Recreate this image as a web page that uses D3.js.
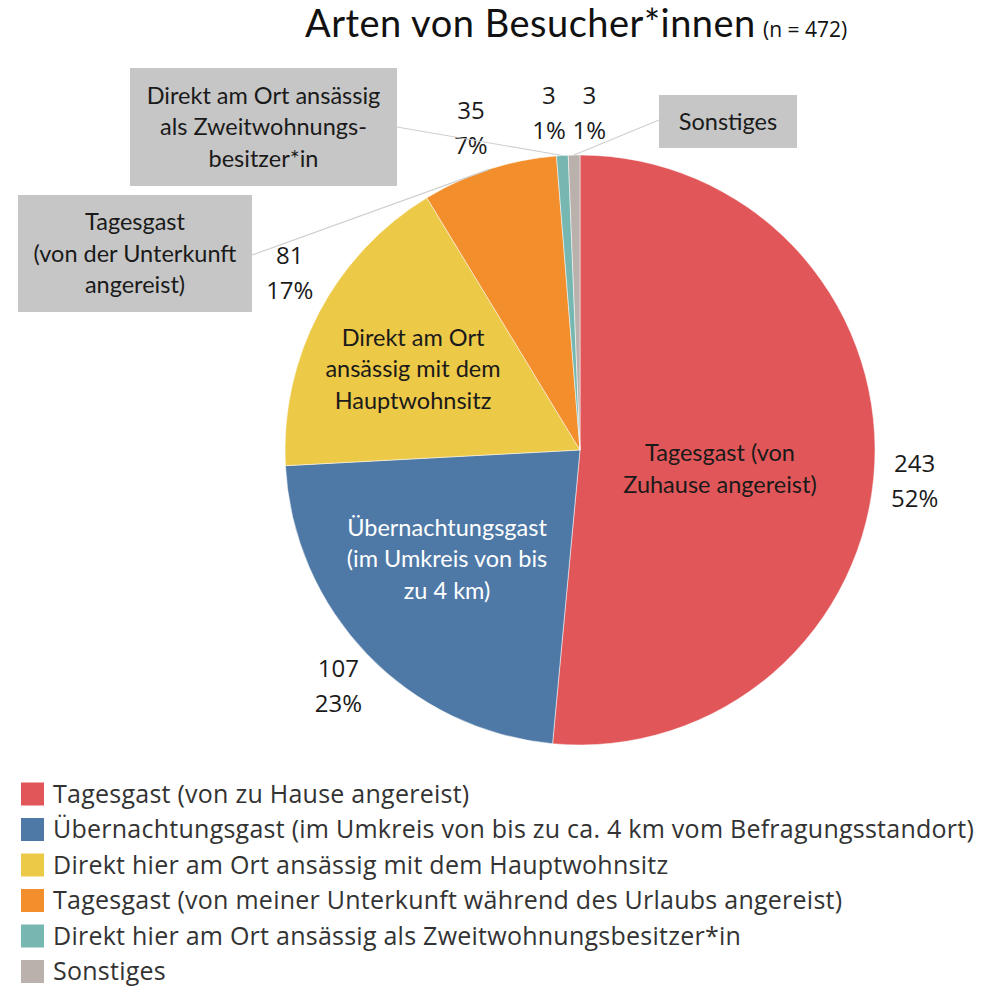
<!DOCTYPE html>
<html>
<head>
<meta charset="utf-8">
<script src="https://cdn.jsdelivr.net/npm/d3@7"></script>
<style>
  body { margin: 0; background: #fff; }
  text { font-family: Lato, "Open Sans", sans-serif; }
</style>
</head>
<body>
<div id="vis"></div>
<script>

var width = 998,
  height = 988;

var cx = 580,
  cy = 450,
  radius = 295;

// Data
var categories = [ 'Tagesgast (von zu Hause angereist)',
  'Übernachtungsgast (im Umkreis von bis zu ca. 4 km vom Befragungsstandort)',
  'Direkt hier am Ort ansässig mit dem Hauptwohnsitz',
  'Tagesgast (von meiner Unterkunft während des Urlaubs angereist)',
  'Direkt hier am Ort ansässig als Zweitwohnungsbesitzer*in',
  'Sonstiges' ];
var counts = [ 243, 107, 81, 35, 3, 3 ];
var percents = [ '52%', '23%', '17%', '7%', '1%', '1%' ];
var colors = [ '#E15759', '#4E79A7', '#EDC948', '#F28E2B', '#76B7B2', '#BAB0AC' ];

// labels drawn inside the slices
var innerLabels = [ [ 'Tagesgast (von', 'Zuhause angereist)' ],
  [ 'Übernachtungsgast', '(im Umkreis von bis', 'zu 4 km)' ],
  [ 'Direkt am Ort', 'ansässig mit dem', 'Hauptwohnsitz' ],
  [], [], [] ];

// callout boxes for the small slices
var callouts = [
  { slice: 3, lines: [ 'Tagesgast', '(von der Unterkunft', 'angereist)' ], box: [ 18, 195, 234, 117 ], anchor: [ 252, 255 ] },
  { slice: 4, lines: [ 'Direkt am Ort ansässig', 'als Zweitwohnungs-', 'besitzer*in' ], box: [ 130, 68, 267, 118 ], anchor: [ 397, 127 ] },
  { slice: 5, lines: [ 'Sonstiges' ], box: [ 659, 95, 138, 53 ], anchor: [ 659, 120 ] }
];

var data = categories.map( ( c, i ) => ( { name: c, value: counts[ i ], pct: percents[ i ], color: colors[ i ], inner: innerLabels[ i ] } ) );

var pie = d3.pie()
  .sort( null )
  .value( d => d.value );

var arcs = pie( data );

var arc = d3.arc()
  .innerRadius( 0 )
  .outerRadius( radius );

var svg = d3.select( '#vis' ).append( 'svg' )
  .attr( 'width', width )
  .attr( 'height', height );

// Title
svg.append( 'text' )
  .attr( 'x', 305 )
  .attr( 'y', 37 )
  .attr( 'fill', '#111' )
  .style( 'font-size', '38px' )
  .style( 'letter-spacing', '0.5px' )
  .text( 'Arten von Besucher*innen' );

svg.append( 'text' )
  .attr( 'x', 763 )
  .attr( 'y', 37 )
  .attr( 'fill', '#111' )
  .style( 'font-family', '"Open Sans", sans-serif' )
  .style( 'font-size', '21px' )
  .text( '(n = 472)' );

var g = svg.append( 'g' )
  .attr( 'transform', 'translate(' + cx + ',' + cy + ')' );

g.selectAll( 'path.slice' )
  .data( arcs )
  .enter().append( 'path' )
    .attr( 'class', 'slice' )
    .attr( 'd', arc )
    .attr( 'fill', d => d.data.color )
    .attr( 'stroke', '#fff' )
    .attr( 'stroke-width', 0.5 );

// inner labels
var innerPos = [ [ 140, 19 ], [ -133, 109 ], [ -167, -81 ] ];
arcs.forEach( ( a, i ) => {
  if ( !a.data.inner.length ) return;
  var lines = a.data.inner;
  var t = g.append( 'text' )
    .attr( 'text-anchor', 'middle' )
    .attr( 'fill', i == 1 ? '#fff' : '#1a1a1a' )
    .style( 'font-size', '23.5px' );
  lines.forEach( ( l, k ) => {
    t.append( 'tspan' )
      .attr( 'x', innerPos[ i ][ 0 ] )
      .attr( 'y', innerPos[ i ][ 1 ] + ( k - ( lines.length - 1 ) / 2 ) * 31.5 + 8 )
      .text( l );
  } );
} );

// outer value labels
var outerArc = d3.arc()
  .innerRadius( radius + 40 )
  .outerRadius( radius + 40 );
var nudge = [ [ 0, 16 ], [ 0, 4 ], [ 6, -20 ], [ -6, -3 ], [ -11, -2 ], [ 16, -2 ] ];

arcs.forEach( ( a, i ) => {
  var p = outerArc.centroid( a );
  var t = g.append( 'text' )
    .attr( 'text-anchor', 'middle' )
    .attr( 'fill', '#1a1a1a' )
    .style( 'font-family', '"Open Sans", sans-serif' )
    .style( 'font-size', '24px' );
  [ a.data.value, a.data.pct ].forEach( ( s, k ) => {
    t.append( 'tspan' )
      .attr( 'x', p[ 0 ] + nudge[ i ][ 0 ] )
      .attr( 'y', p[ 1 ] + nudge[ i ][ 1 ] + ( k - 0.5 ) * 35 + 8 )
      .text( s );
  } );
} );

// callouts
callouts.forEach( c => {
  var a = arcs[ c.slice ];
  var ang = ( a.startAngle + a.endAngle ) / 2;
  var ex = cx + radius * Math.sin( ang ),
    ey = cy - radius * Math.cos( ang );
  svg.append( 'line' )
    .attr( 'x1', c.anchor[ 0 ] )
    .attr( 'y1', c.anchor[ 1 ] )
    .attr( 'x2', ex )
    .attr( 'y2', ey )
    .attr( 'stroke', '#cfcfcf' )
    .attr( 'stroke-width', 1.2 );
  svg.append( 'rect' )
    .attr( 'x', c.box[ 0 ] )
    .attr( 'y', c.box[ 1 ] )
    .attr( 'width', c.box[ 2 ] )
    .attr( 'height', c.box[ 3 ] )
    .attr( 'fill', '#c6c6c6' );
  var t = svg.append( 'text' )
    .attr( 'text-anchor', 'middle' )
    .attr( 'fill', '#1a1a1a' )
    .style( 'font-size', '23.5px' );
  c.lines.forEach( ( l, k ) => {
    t.append( 'tspan' )
      .attr( 'x', c.box[ 0 ] + c.box[ 2 ] / 2 )
      .attr( 'y', c.box[ 1 ] + c.box[ 3 ] / 2 + ( k - ( c.lines.length - 1 ) / 2 ) * 31.5 + 8 )
      .text( l );
  } );
} );

// Legend
var legendY = d3.scaleBand()
  .domain( categories )
  .range( [ 777, 990 ] );

var legend = svg.selectAll( 'g.legend' )
  .data( data )
  .enter().append( 'g' )
    .attr( 'class', 'legend' )
    .attr( 'transform', d => 'translate(21,' + legendY( d.name ) + ')' );

legend.append( 'rect' )
  .attr( 'width', 23 )
  .attr( 'height', 23 )
  .attr( 'y', 5.5 )
  .attr( 'fill', d => d.color );

legend.append( 'text' )
  .attr( 'x', 32 )
  .attr( 'y', 25.5 )
  .attr( 'fill', '#333' )
  .style( 'font-family', '"Open Sans", sans-serif' )
  .style( 'font-size', '25px' )
  .style( 'letter-spacing', '0.25px' )
  .text( d => d.name );

</script>
</body>
</html>
